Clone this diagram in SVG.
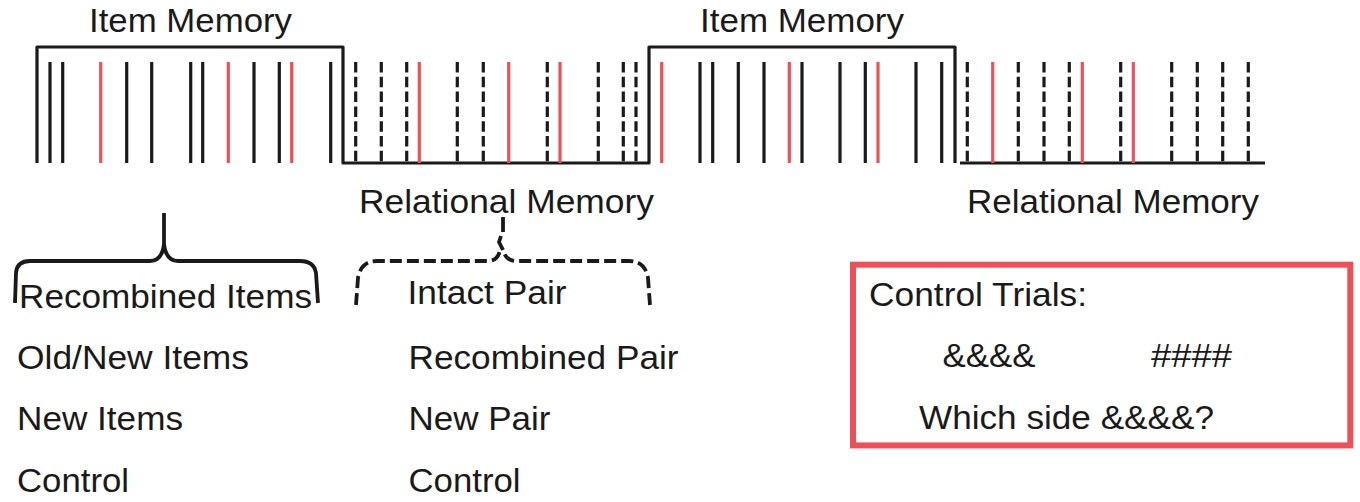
<svg xmlns="http://www.w3.org/2000/svg" width="1360" height="502" viewBox="0 0 1360 502">
<style>
.t{font-family:"Liberation Sans",Arial,Helvetica,sans-serif;font-size:33px;fill:#1a1a1a}
.frame{fill:none;stroke:#1a1a1a;stroke-width:3.2;stroke-linejoin:round}
.b{stroke:#1a1a1a;stroke-width:3.2}
.d{stroke:#1a1a1a;stroke-width:3.2;stroke-dasharray:10.5 4.3}
.r{stroke:#ef5058;stroke-width:3.2}
.brace{fill:none;stroke:#1a1a1a;stroke-width:3.8;stroke-linecap:butt;stroke-linejoin:round}
</style>
<rect width="1360" height="502" fill="#ffffff"/>

<g id="timeline">
<path class="frame" d="M37,163 L37,47 L343,47 L343,163 L649,163 L649,47 L955,47 L955,163"/>
<path class="frame" d="M960,163 L1265,163"/>
</g>

<g id="item-block-1">
<path class="b" d="M50,62V163M62.7,62V163M126.7,62V163M151.7,62V163M190.7,62V163M202.7,62V163M254,62V163M279.3,62V163M330.7,62V163"/>
<path class="r" d="M100.7,62V163M228.3,62V163M291.7,62V163"/>
</g>

<g id="relational-block-1">
<path class="d" d="M355.7,62V163M381.3,62V163M406.7,62V163M457.3,62V163M483.3,62V163M547.3,62V163M598.3,62V163M623.3,62V163M636,62V163"/>
<path class="r" d="M419.3,62V163M508.7,62V163M560,62V163"/>
</g>

<g id="item-block-2">
<path class="b" d="M700,62V163M712.7,62V163M738.3,62V163M764,62V163M802,62V163M840,62V163M865.3,62V163M916,62V163M941.7,62V163"/>
<path class="r" d="M661.7,62V163M789.3,62V163M878,62V163"/>
</g>

<g id="relational-block-2">
<path class="d" d="M967.3,62V163M1018.3,62V163M1044,62V163M1069.3,62V163M1120.7,62V163M1171.7,62V163M1197.3,62V163M1222.7,62V163M1248.3,62V163"/>
<path class="r" d="M992.7,62V163M1082.3,62V163M1133.3,62V163"/>
</g>

<g id="labels-top">
<text class="t" x="89" y="32" textLength="203" lengthAdjust="spacingAndGlyphs">Item Memory</text>
<text class="t" x="700" y="32" textLength="204" lengthAdjust="spacingAndGlyphs">Item Memory</text>
<text class="t" x="359" y="212.5" textLength="295" lengthAdjust="spacingAndGlyphs">Relational Memory</text>
<text class="t" x="967" y="212.5" textLength="292" lengthAdjust="spacingAndGlyphs">Relational Memory</text>
</g>

<g id="brace-item">
<path class="brace" d="M15,303 L16,273 Q17,261 30,261 L150,261 Q162,261 164,244 L164,213 M164,244 Q166,261 178,261 L300,261 Q314,261 316,273 L318,303"/>
</g>

<g id="brace-relational">
<path class="brace" stroke-dasharray="12 5" d="M356,305 L358,278 Q361,261 377,261 L488,261 Q498,261 500,250"/>
<path class="brace" stroke-dasharray="12 5" d="M650,305 L648,278 Q645,261 629,261 L516,261 Q506,261 503,250"/>
<path class="brace" d="M503,217 L503,232 M501,236 L499,242 L503,250"/>
</g>

<g id="item-conditions">
<text class="t" x="19" y="308" textLength="293" lengthAdjust="spacingAndGlyphs">Recombined Items</text>
<text class="t" x="17" y="368.5" textLength="232" lengthAdjust="spacingAndGlyphs">Old/New Items</text>
<text class="t" x="17" y="430" textLength="166" lengthAdjust="spacingAndGlyphs">New Items</text>
<text class="t" x="17" y="491.7" textLength="112" lengthAdjust="spacingAndGlyphs">Control</text>
</g>

<g id="relational-conditions">
<text class="t" x="407.5" y="303.5" textLength="159" lengthAdjust="spacingAndGlyphs">Intact Pair</text>
<text class="t" x="408.5" y="368.5" textLength="270" lengthAdjust="spacingAndGlyphs">Recombined Pair</text>
<text class="t" x="408.5" y="430" textLength="142" lengthAdjust="spacingAndGlyphs">New Pair</text>
<text class="t" x="408.5" y="491.7" textLength="112" lengthAdjust="spacingAndGlyphs">Control</text>
</g>

<g id="control-trials">
<rect x="853" y="264.7" width="497.3" height="180.7" fill="none" stroke="#ef5058" stroke-width="6"/>
<text class="t" x="869" y="305.5" textLength="218" lengthAdjust="spacingAndGlyphs">Control Trials:</text>
<text class="t" x="942.5" y="367" textLength="93" lengthAdjust="spacingAndGlyphs">&amp;&amp;&amp;&amp;</text>
<text class="t" x="1151" y="367" textLength="81" lengthAdjust="spacingAndGlyphs">####</text>
<text class="t" x="919" y="428.5" textLength="295" lengthAdjust="spacingAndGlyphs">Which side &amp;&amp;&amp;&amp;?</text>
</g>
</svg>
